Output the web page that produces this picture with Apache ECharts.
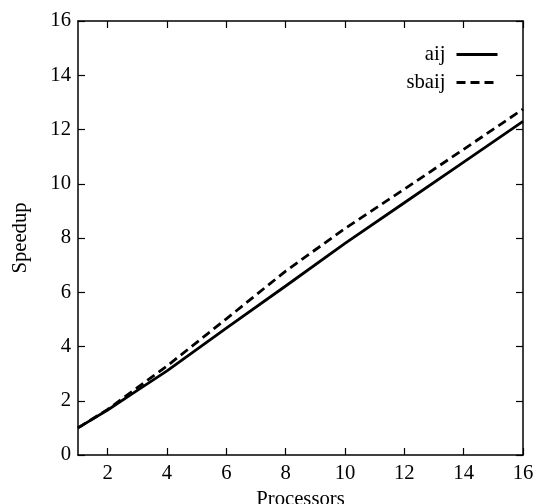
<!DOCTYPE html>
<html>
<head>
<meta charset="utf-8">
<script src="https://cdn.jsdelivr.net/npm/echarts@6/dist/echarts.min.js"></script>
<style>
html,body{margin:0;padding:0;background:#fff;overflow:hidden;}
#chart{width:533px;height:504px;}
</style>
</head>
<body>
<div id="chart"></div>
<script>
const processors = [1, 2, 3, 4, 6, 8, 10, 12, 14, 16];
const aij = [1.0, 1.66, 2.38, 3.1, 4.68, 6.23, 7.8, 9.3, 10.8, 12.3];
const sbaij = [1.0, 1.68, 2.48, 3.28, 5.02, 6.78, 8.35, 9.8, 11.27, 12.75];
const xTicks = [2, 4, 6, 8, 10, 12, 14, 16];
const yTicks = [0, 2, 4, 6, 8, 10, 12, 14, 16];

const FONT = '"Liberation Serif", "DejaVu Serif", serif';
const FS = 20.7;
const chart = echarts.init(document.getElementById('chart'));

function pairs(xs, ys) { return xs.map((x, i) => [x, ys[i]]); }

const axisLine = { show: true, onZero: false, lineStyle: { color: '#000', width: 1.5 } };
const tick = { show: true, inside: true, length: 7, lineStyle: { color: '#000', width: 1.2 } };

chart.setOption({
  backgroundColor: '#fff',
  animation: false,
  grid: { left: 78, right: 10, top: 21, bottom: 49, containLabel: false, outerBoundsMode: 'none' },
  legend: {
    orient: 'vertical',
    align: 'right',
    right: 29,
    top: 39,
    itemWidth: 41,
    itemHeight: 20,
    itemGap: 7,
    itemStyle: { color: 'rgba(0,0,0,0)', borderWidth: 0, opacity: 0 },
    lineStyle: { width: 3 },
    textStyle: { fontFamily: FONT, fontSize: FS, color: '#000', padding: [0, 6, 0, 0] },
    data: ['aij', 'sbaij']
  },
  xAxis: [{
    type: 'value', min: 1, max: 16,
    name: 'Processors', nameLocation: 'middle', nameGap: 29,
    nameTextStyle: { fontFamily: FONT, fontSize: FS, color: '#000' },
    axisLine: axisLine,
    axisTick: Object.assign({ customValues: xTicks }, tick),
    axisLabel: { customValues: xTicks, fontFamily: FONT, fontSize: FS, color: '#000', margin: 8 },
    splitLine: { show: false }
  }, {
    type: 'value', min: 1, max: 16, position: 'top',
    axisLine: axisLine,
    axisTick: Object.assign({ customValues: xTicks }, tick),
    axisLabel: { show: false },
    splitLine: { show: false }
  }],
  yAxis: [{
    type: 'value', min: 0, max: 16, interval: 2,
    name: 'Speedup', nameLocation: 'middle', nameGap: 47,
    nameTextStyle: { fontFamily: FONT, fontSize: FS, color: '#000' },
    axisLine: axisLine,
    axisTick: tick,
    axisLabel: { fontFamily: FONT, fontSize: FS, color: '#000', margin: 7 },
    splitLine: { show: false }
  }, {
    type: 'value', min: 0, max: 16, interval: 2, position: 'right',
    axisLine: axisLine,
    axisTick: tick,
    axisLabel: { show: false },
    splitLine: { show: false }
  }],
  series: [{
    name: 'aij', type: 'line', symbol: 'none', smooth: false,
    xAxisIndex: 0, yAxisIndex: 0,
    data: pairs(processors, aij),
    lineStyle: { color: '#000', width: 2.8, type: 'solid' },
    itemStyle: { color: '#000' }
  }, {
    name: 'sbaij', type: 'line', symbol: 'none', smooth: false,
    xAxisIndex: 0, yAxisIndex: 0,
    data: pairs(processors, sbaij),
    lineStyle: { color: '#000', width: 2.8, type: [9, 5] },
    itemStyle: { color: '#000' }
  }]
});
</script>
</body>
</html>
